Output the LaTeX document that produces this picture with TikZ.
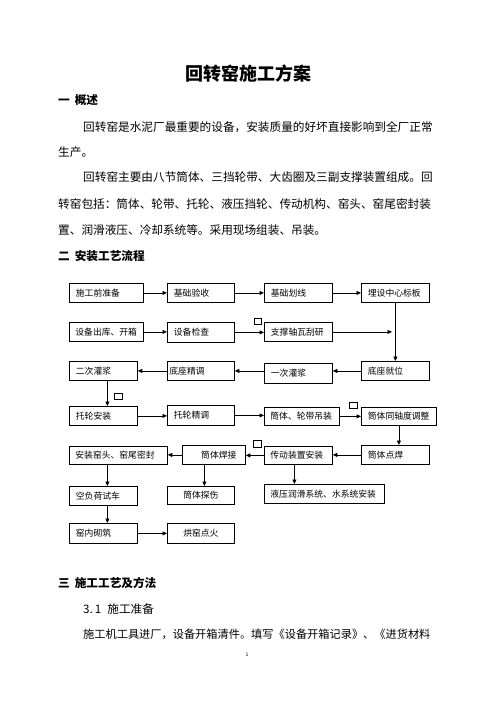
\documentclass[tikz,border=0pt]{standalone}
\usepackage{fontspec}
\setmainfont{Noto Sans CJK SC}
\usetikzlibrary{arrows.meta}
\tikzset{
  box/.style={draw, line width=0.8pt, inner ysep=0pt, font=\fontsize{8.8pt}{10pt}\selectfont},
  arr/.style={draw, line width=0.8pt, -{Triangle[length=4.5pt,width=4pt]}},
  sq/.style={draw, line width=0.6pt},
  body/.style={anchor=west, inner sep=0pt, font=\fontsize{11.65pt}{13pt}\selectfont},
  head/.style={anchor=west, inner sep=0pt, font=\fontsize{11.65pt}{13pt}\selectfont\bfseries},
}
\newcommand\flowbox[8]{%
  \pgfmathsetmacro\fbw{#4-#2}%
  \pgfmathsetmacro\fbh{#5-#3}%
  \pgfmathsetmacro\fbt{#4-#2-2*#6}%
  \node[box, anchor=north west, inner xsep=#6pt, minimum width=\fbw pt, minimum height=\fbh pt, text width=\fbt pt, align=#7] (#1) at (#2,-#3) {#8};%
}
\begin{document}
\begin{tikzpicture}[x=1pt,y=1pt]
\useasboundingbox[fill=white] (0,0) rectangle (496,-702);

% text
\node[anchor=center, inner sep=0pt, font=\fontsize{18pt}{20pt}\selectfont\bfseries] (title) at (248.5,-73.5) {回转窑施工方案};
\node[head] (h1) at (58,-100) {一\hspace{5pt}概述};
\node[body] (p1) at (83,-127) {回转窑是水泥厂最重要的设备，安装质量的好坏直接影响到全厂正常};
\node[body] (p2) at (58,-152) {生产。};
\node[body] (p3) at (83,-177) {回转窑主要由八节筒体、三挡轮带、大齿圈及三副支撑装置组成。回};
\node[body] (p4) at (58,-204) {转窑包括：筒体、轮带、托轮、液压挡轮、传动机构、窑头、窑尾密封装};
\node[body] (p5) at (58,-230) {置、润滑液压、冷却系统等。采用现场组装、吊装。};
\node[head] (h2) at (58,-256) {二\hspace{5pt}安装工艺流程};
\node[head] (h3) at (58,-583) {三\hspace{5pt}施工工艺及方法};
\node[body] (p6) at (83,-609) {3.\hspace{2pt}1\hspace{6pt}施工准备};
\node[body, font=\fontsize{11.2pt}{13pt}\selectfont] (p7) at (83,-634) {施工机工具进厂，设备开箱清件。填写《设备开箱记录》、《进货材料};
\node[anchor=center, inner sep=0pt, font=\fontsize{5pt}{6pt}\selectfont] (pg) at (247,-655) {1};

% flow boxes
\flowbox{A1}{69}{283}{143}{302}{6.5}{left}{施工前准备}
\flowbox{A2}{167}{283}{234}{302}{6.5}{left}{基础验收}
\flowbox{A3}{264}{283}{332}{302}{6.5}{left}{基础划线}
\flowbox{A4}{361}{283}{429}{302}{6.5}{left}{埋设中心标板}
\flowbox{B1}{69}{322}{143}{341}{6}{left}{设备出库、开箱}
\flowbox{B2}{167}{322}{234}{342}{6.5}{left}{设备检查}
\flowbox{B3}{264}{322}{332}{341}{6.5}{left}{支撑轴瓦刮研}
\flowbox{C1}{69}{361}{137}{380}{6.5}{left}{二次灌浆}
\flowbox{C2}{167}{361}{234}{380}{2}{left}{底座精调}
\flowbox{C3}{264}{363}{332}{383}{6.5}{left}{一次灌浆}
\flowbox{C4}{361}{361}{429}{380}{6.5}{left}{底座就位}
\flowbox{D1}{69}{406}{137}{425}{6.5}{left}{托轮安装}
\flowbox{D2}{167}{405}{234}{425}{6.5}{left}{托轮精调}
\flowbox{D3}{264}{407}{339}{425}{6}{left}{筒体、轮带吊装}
\flowbox{D4}{361}{407}{436}{425}{6.5}{left}{筒体同轴度调整}
\flowbox{E1}{69}{446}{167}{464}{6}{left}{安装窑头、窑尾密封}
\flowbox{E2}{182}{445}{245}{464}{9}{right}{筒体焊接}
\flowbox{E3}{264}{446}{332}{464}{6}{left}{传动装置安装}
\flowbox{E4}{361}{445}{429}{464}{6.5}{left}{筒体点焊}
\flowbox{F1}{69}{486}{137}{505}{6.5}{left}{空负荷试车}
\flowbox{F2}{167}{486}{234}{504}{6.5}{center}{筒体探伤}
\flowbox{F3}{264}{484}{384}{503}{6}{left}{液压润滑系统、水系统安装}
\flowbox{G1}{69}{523}{137}{543}{6.5}{left}{窑内砌筑}
\flowbox{G2}{167}{523}{234}{543}{6.5}{center}{烘窑点火}

% small squares
\draw[sq] (254,-318) rectangle (261,-324);
\draw[sq] (114,-393) rectangle (122,-399);
\draw[sq] (349,-402) rectangle (357,-408);
\draw[sq] (253,-440) rectangle (261,-447);

% connectors
\coordinate (j1) at (392,-332);
\draw[arr] (A1.east) -- (A1.east -| A2.west);
\draw[arr] (A2.east) -- (A2.east -| A3.west);
\draw[arr] (A3.east) -- (A3.east -| A4.west);
\draw[arr] (A4.south) -- (A4.south |- C4.north);
\draw[arr] (B1.east) -- (B1.east -| B2.west);
\draw[arr] (B2.east) -- (B2.east -| B3.west);
\draw[arr] (B3.east) -- (B3.east -| j1);
\draw[arr] (C4.west) -- (C4.west -| C3.east);
\draw[arr] (C3.west |- C2.east) -- (C2.east);
\draw[arr] (C2.west) -- (C2.west -| C1.east);
\draw[arr] ([xshift=4pt]C1.south) -- ([xshift=4pt]C1.south |- D1.north);
\draw[arr] (D1.east) -- (D1.east -| D2.west);
\draw[arr] (D2.east) -- (D2.east -| D3.west);
\draw[arr] (D3.east) -- (D3.east -| D4.west);
\draw[arr] (D4.south) -- (D4.south |- E4.north);
\draw[arr] (E4.west) -- (E4.west -| E3.east);
\draw[arr] (E3.west) -- (E3.west -| E2.east);
\draw[arr] (E2.west) -- (E2.west -| E1.east);
\draw[arr] ([xshift=-11pt]E1.south) -- ([xshift=-11pt]E1.south |- F1.north);
\draw[arr] ([xshift=-9.5pt]E2.south) -- ([xshift=-9.5pt]E2.south |- F2.north);
\draw[arr] ([xshift=-4pt]E3.south) -- ([xshift=-4pt]E3.south |- F3.north);
\draw[arr] ([xshift=4pt]F1.south) -- ([xshift=4pt]F1.south |- G1.north);
\draw[arr] (G1.east) -- (G1.east -| G2.west);
\end{tikzpicture}
\end{document}
